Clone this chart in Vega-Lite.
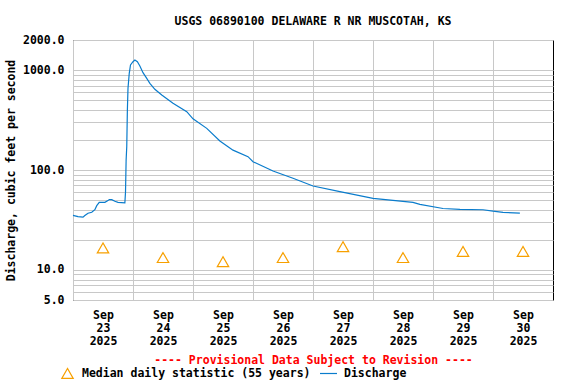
{
  "$schema": "https://vega.github.io/schema/vega-lite/v6.json",
  "width": 480,
  "height": 260,
  "autosize": {"type": "none"},
  "padding": {"left": 73, "top": 40, "right": 23, "bottom": 84},
  "background": "white",
  "title": {"text": "USGS 06890100 DELAWARE R NR MUSCOTAH, KS", "offset": 7},
  "datasets": {
    "discharge": [
      {"time": "2025-09-23T00:00", "cfs": 35.2},
      {"time": "2025-09-23T02:00", "cfs": 34.2},
      {"time": "2025-09-23T04:00", "cfs": 33.7},
      {"time": "2025-09-23T04:45", "cfs": 35.0},
      {"time": "2025-09-23T06:00", "cfs": 36.9},
      {"time": "2025-09-23T07:30", "cfs": 37.8},
      {"time": "2025-09-23T08:45", "cfs": 40.1},
      {"time": "2025-09-23T09:30", "cfs": 44.0},
      {"time": "2025-09-23T10:30", "cfs": 47.5},
      {"time": "2025-09-23T12:45", "cfs": 47.5},
      {"time": "2025-09-23T14:00", "cfs": 49.4},
      {"time": "2025-09-23T14:30", "cfs": 50.5},
      {"time": "2025-09-23T15:30", "cfs": 50.5},
      {"time": "2025-09-23T16:45", "cfs": 48.7},
      {"time": "2025-09-23T18:00", "cfs": 47.5},
      {"time": "2025-09-23T20:45", "cfs": 47.0},
      {"time": "2025-09-23T21:00", "cfs": 60},
      {"time": "2025-09-23T21:15", "cfs": 126},
      {"time": "2025-09-23T21:30", "cfs": 171},
      {"time": "2025-09-23T21:45", "cfs": 398},
      {"time": "2025-09-23T22:00", "cfs": 657},
      {"time": "2025-09-23T22:30", "cfs": 928},
      {"time": "2025-09-23T23:00", "cfs": 1124},
      {"time": "2025-09-24T00:00", "cfs": 1213},
      {"time": "2025-09-24T00:45", "cfs": 1262},
      {"time": "2025-09-24T01:45", "cfs": 1213},
      {"time": "2025-09-24T02:45", "cfs": 1098},
      {"time": "2025-09-24T04:00", "cfs": 942},
      {"time": "2025-09-24T05:30", "cfs": 826},
      {"time": "2025-09-24T06:45", "cfs": 737},
      {"time": "2025-09-24T08:45", "cfs": 642},
      {"time": "2025-09-24T11:30", "cfs": 563},
      {"time": "2025-09-24T16:00", "cfs": 465},
      {"time": "2025-09-24T21:30", "cfs": 383},
      {"time": "2025-09-25T00:00", "cfs": 325},
      {"time": "2025-09-25T05:30", "cfs": 261},
      {"time": "2025-09-25T10:45", "cfs": 195},
      {"time": "2025-09-25T16:00", "cfs": 158},
      {"time": "2025-09-25T22:00", "cfs": 136},
      {"time": "2025-09-26T00:00", "cfs": 121},
      {"time": "2025-09-26T08:00", "cfs": 97.6},
      {"time": "2025-09-26T16:00", "cfs": 82.6},
      {"time": "2025-09-27T00:00", "cfs": 69.1},
      {"time": "2025-09-27T10:45", "cfs": 60.8},
      {"time": "2025-09-28T00:00", "cfs": 52.0},
      {"time": "2025-09-28T16:00", "cfs": 47.4},
      {"time": "2025-09-28T18:45", "cfs": 45.3},
      {"time": "2025-09-29T04:00", "cfs": 41.2},
      {"time": "2025-09-29T10:45", "cfs": 40.4},
      {"time": "2025-09-29T20:00", "cfs": 40.0},
      {"time": "2025-09-30T00:00", "cfs": 38.8},
      {"time": "2025-09-30T04:00", "cfs": 37.7},
      {"time": "2025-09-30T10:45", "cfs": 37.0}
    ],
    "median": [
      {"time": "2025-09-23T12:00", "cfs": 16.6},
      {"time": "2025-09-24T12:00", "cfs": 13.3},
      {"time": "2025-09-25T12:00", "cfs": 12.1},
      {"time": "2025-09-26T12:00", "cfs": 13.3},
      {"time": "2025-09-27T12:00", "cfs": 17.1},
      {"time": "2025-09-28T12:00", "cfs": 13.3},
      {"time": "2025-09-29T12:00", "cfs": 15.3},
      {"time": "2025-09-30T12:00", "cfs": 15.3}
    ]
  },
  "layer": [
    {
      "data": {"name": "discharge"},
      "mark": {"type": "line", "strokeWidth": 1.2, "interpolate": "linear"},
      "encoding": {
        "x": {
          "field": "time",
          "type": "temporal",
          "scale": {"domain": [{"year": 2025, "month": 9, "date": 23}, {"year": 2025, "month": 10, "date": 1}], "nice": false},
          "axis": {
            "values": [
              {"year": 2025, "month": 9, "date": 23},
              {"year": 2025, "month": 9, "date": 24},
              {"year": 2025, "month": 9, "date": 25},
              {"year": 2025, "month": 9, "date": 26},
              {"year": 2025, "month": 9, "date": 27},
              {"year": 2025, "month": 9, "date": 28},
              {"year": 2025, "month": 9, "date": 29},
              {"year": 2025, "month": 9, "date": 30}
            ],
            "labelExpr": "[timeFormat(datum.value, '%b'), timeFormat(datum.value, '%d'), timeFormat(datum.value, '%Y')]",
            "labelOffset": 30,
            "labelAlign": "center",
            "labelBaseline": "top",
            "labelLineHeight": 13,
            "labelPadding": 9,
            "labelFlush": false,
            "labelOverlap": false,
            "title": "---- Provisional Data Subject to Revision ----",
            "titleColor": "#ff0000",
            "titlePadding": 8
          }
        },
        "y": {
          "field": "cfs",
          "type": "quantitative",
          "scale": {"type": "log", "domain": [5, 2000], "nice": false, "zero": false},
          "axis": {
            "values": [5, 6, 7, 8, 9, 10, 20, 30, 40, 50, 60, 70, 80, 90, 100, 200, 300, 400, 500, 600, 700, 800, 900, 1000, 2000],
            "labelExpr": "indexof([5, 10, 100, 1000, 2000], datum.value) >= 0 ? format(datum.value, '.1f') : ''",
            "labelPadding": 9,
            "labelFlush": false,
            "labelOverlap": false,
            "title": "Discharge, cubic feet per second",
            "titlePadding": 6
          }
        },
        "stroke": {
          "datum": "Discharge",
          "scale": {"domain": ["Discharge"], "range": ["#0a7ccc"]},
          "legend": {
            "title": null,
            "orient": "none",
            "legendX": 246,
            "legendY": 324,
            "symbolType": "stroke",
            "symbolSize": 289,
            "symbolStrokeColor": "#0a7ccc",
            "symbolStrokeWidth": 1.2,
            "labelOffset": 6
          }
        }
      }
    },
    {
      "data": {"name": "median"},
      "mark": {"type": "point", "shape": "triangle-up", "filled": false, "color": "#f7a000", "size": 130, "strokeWidth": 1.2, "opacity": 1},
      "encoding": {
        "x": {"field": "time", "type": "temporal"},
        "y": {"field": "cfs", "type": "quantitative"},
        "shape": {
          "datum": "Median daily statistic (55 years)",
          "scale": {"domain": ["Median daily statistic (55 years)"], "range": ["triangle-up"]},
          "legend": {
            "title": null,
            "orient": "none",
            "legendX": -12,
            "legendY": 327,
            "symbolType": "triangle-up",
            "symbolSize": 130,
            "symbolStrokeColor": "#f7a000",
            "symbolFillColor": "transparent",
            "symbolStrokeWidth": 1.2,
            "symbolOpacity": 1,
            "labelOffset": 8
          }
        }
      }
    }
  ],
  "config": {
    "font": "DejaVu Sans Mono",
    "view": {"stroke": "black", "strokeWidth": 1},
    "axis": {
      "labelFont": "DejaVu Sans Mono",
      "labelFontSize": 11.5,
      "labelFontWeight": "bold",
      "labelColor": "black",
      "titleFont": "DejaVu Sans Mono",
      "titleFontSize": 11.5,
      "titleFontWeight": "bold",
      "titleColor": "black",
      "gridColor": "#c8c8c8",
      "gridWidth": 1,
      "gridOpacity": 1,
      "ticks": false,
      "domain": false
    },
    "legend": {
      "labelFont": "DejaVu Sans Mono",
      "labelFontSize": 11.5,
      "labelFontWeight": "bold",
      "labelColor": "black",
      "padding": 0,
      "labelLimit": 400
    },
    "title": {
      "font": "DejaVu Sans Mono",
      "fontSize": 11.5,
      "fontWeight": "bold",
      "color": "black",
      "anchor": "middle"
    }
  }
}
